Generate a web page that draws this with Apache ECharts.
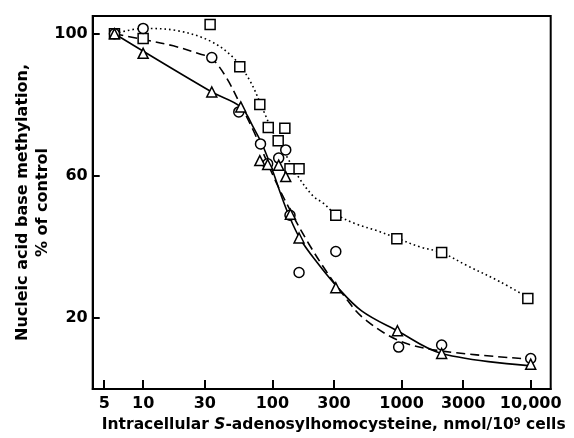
<!DOCTYPE html>
<html><head><meta charset="utf-8">
<script src="https://cdn.jsdelivr.net/npm/echarts@6/dist/echarts.min.js"></script>
<style>html,body{margin:0;padding:0;background:#fff}#c{width:574px;height:438px}</style>
</head><body><div id="c"></div>
<script>
const xTicks = [5, 10, 30, 100, 300, 1000, 3000, 10000];
const yTicks = [20, 60, 100];

// measured points
const triangles = [[6,100],[10,94.5],[34,83.6],[57,79.4],[80,64.3],[92,63.2],[112,63],[127,59.8],[138,49.2],[161,42.5],[310,28.5],[930,16.4],[2045,10],[10000,7]];
const circles = [[6,100],[10,101.5],[34,93.3],[55,78],[81,69],[92,63.4],[112,65],[127,67.3],[137,48.9],[161,32.8],[310,38.7],[950,11.8],[2045,12.4],[10000,8.6]];
const squares = [[6,100],[10,98.7],[33,102.6],[56,90.7],[80,80.1],[93,73.6],[111,69.9],[125,73.4],[137,62],[161,62],[310,48.9],[920,42.3],[2045,38.4],[9500,25.5]];

// fitted curves
const solidCurve = [[6,100],[34,83.6],[57,79.4],[71,73.8],[85,68.2],[102,60.8],[115,55.3],[135,48.7],[164,42.3],[220,35.8],[315,28.9],[491,22],[926,16.4],[2043,10],[10000,6.5]];
const dashedCurve = [[6,100],[10,98.4],[17.1,96.6],[27.5,94.3],[33.9,93.1],[44,87.7],[57.8,79.4],[71,72.9],[85,66.4],[108,57.9],[145,48.7],[195,40.4],[263,33],[354,26.5],[506,20],[972,13.5],[2043,10.7],[10000,8.4]];
const dottedCurve = [[6,100],[10,101.5],[18.2,100.9],[32.9,98],[49.8,93.3],[67,86.8],[85,78.5],[102,72],[129,65.5],[164,59],[207,54.3],[248,52.3],[310,49.2],[449,46.4],[641,44.6],[916,42.5],[1387,40],[2043,38.4],[3190,34.8],[5780,30.2],[9460,25.8]];

const FONT = '"DejaVu Sans", "Liberation Sans", sans-serif';
const chart = echarts.init(document.getElementById('c'), null, {renderer: 'canvas'});

function lineSeries(data, dash) {
  return {
    type: 'line', data: data, smooth: 0.35, symbol: 'none', silent: true,
    lineStyle: {color: '#000', width: 1.6, type: dash},
    z: 2
  };
}
function pointSeries(data, symbol, size) {
  return {
    type: 'scatter', data: data, symbol: symbol, symbolSize: size,
    itemStyle: {color: '#fff', borderColor: '#000', borderWidth: 1.5, opacity: 1},
    z: 3
  };
}

chart.setOption({
  animation: false,
  backgroundColor: '#fff',
  grid: {left: 92.7, right: 23.3, top: 16, bottom: 46.3, show: true, borderColor: '#000', borderWidth: 2},
  xAxis: {
    type: 'log', logBase: 10, min: 4.07, max: 14280,
    axisLine: {show: true, lineStyle: {color: '#000', width: 2}},
    axisTick: {show: true, inside: true, length: 9, customValues: xTicks, lineStyle: {color: '#000', width: 2}},
    axisLabel: {
      customValues: xTicks, margin: 7, color: '#000', fontFamily: FONT, fontWeight: 'bold', fontSize: 16,
      formatter: v => v >= 10000 ? v.toLocaleString('en-US') : String(v)
    },
    splitLine: {show: false}, minorTick: {show: false},
    name: '{n|Intracellular }{i|S}{n|-adenosylhomocysteine, nmol/10}{s|9}{n| cells}',
    nameLocation: 'middle', nameGap: 28,
    nameTextStyle: {
      color: '#000', fontFamily: FONT, fontWeight: 'bold', fontSize: 16, padding: [0, 0, 0, 24],
      rich: {
        n: {color: '#000', fontFamily: FONT, fontWeight: 'bold', fontSize: 15.5},
        i: {color: '#000', fontFamily: FONT, fontWeight: 'bold', fontStyle: 'italic', fontSize: 15.5},
        s: {color: '#000', fontFamily: FONT, fontWeight: 'bold', fontSize: 10, verticalAlign: 'top', padding: [0, 0, 6, 0]}
      }
    }
  },
  yAxis: {
    type: 'value', min: 0, max: 105,
    axisLine: {show: true, lineStyle: {color: '#000', width: 2}},
    axisTick: {show: true, inside: true, length: 7, customValues: yTicks, lineStyle: {color: '#000', width: 2}},
    axisLabel: {customValues: yTicks, margin: 5, color: '#000', fontFamily: FONT, fontWeight: 'bold', fontSize: 16},
    splitLine: {show: false},
    name: 'Nucleic acid base methylation,\n% of control',
    nameLocation: 'middle', nameGap: 40, nameMoveOverlap: false,
    nameTextStyle: {color: '#000', fontFamily: FONT, fontWeight: 'bold', fontSize: 16, lineHeight: 20, align: 'center'}
  },
  series: [
    lineSeries(solidCurve, 'solid'),
    lineSeries(dashedCurve, [9, 5]),
    lineSeries(dottedCurve, [1.6, 3]),
    pointSeries(squares, 'rect', 10),
    pointSeries(circles, 'circle', 10),
    pointSeries(triangles, 'triangle', 10)
  ]
});
</script></body></html>
